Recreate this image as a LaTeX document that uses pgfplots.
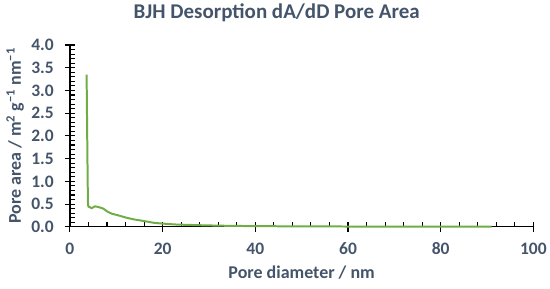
\documentclass[border=0pt]{standalone}
\usepackage{pgfplots}
\pgfplotsset{compat=1.18}
\usepackage{fontspec}
\setmainfont{Carlito}
\definecolor{txt}{HTML}{44546A}
\definecolor{curve}{HTML}{70AD47}
\begin{document}
\begin{tikzpicture}
\begin{axis}[
    scale only axis,
    width=464bp, height=182bp,
    xmin=0, xmax=100, ymin=0, ymax=4,
    clip=false,
    axis lines*=left,
    axis line style={black, line width=1.3pt},
    xtick={0,20,...,100}, minor x tick num=4,
    ytick={0,0.5,...,4}, minor y tick num=4,
    tick align=center,
    major tick length=10bp, minor tick length=5bp,
    tick style={black, line width=1.1pt},
    minor x tick style={yshift=2.5bp},
    minor y tick style={xshift=2.5bp},
    /pgf/number format/assume math mode=true,
    yticklabel style={/pgf/number format/fixed, /pgf/number format/fixed zerofill,
        /pgf/number format/precision=1, anchor=east, inner xsep=0pt, xshift=-11bp},
    xticklabel style={anchor=base, yshift=-23bp},
    tick label style={font=\fontsize{17.5bp}{19bp}\selectfont\bfseries, text=txt},
    label style={font=\fontsize{18bp}{20bp}\selectfont\bfseries, text=txt},
    xlabel={Pore diameter / nm},
    xlabel style={at={(axis description cs:0.5,-0.2857)}, anchor=base},
    ylabel={Pore area / m\textsuperscript{2} g\textsuperscript{−1} nm\textsuperscript{−1}},
    ylabel style={at={(axis description cs:-0.1056,0.5)}, anchor=base},
    title={BJH Desorption dA/dD Pore Area},
    title style={at={(axis description cs:0.4461,1.1154)}, anchor=base,
        font=\fontsize{21bp}{23bp}\selectfont\bfseries, text=txt},
]
\addplot[color=curve, line width=2pt, smooth, tension=0.3] coordinates {
    (3.6,3.35) (3.75,1.8) (3.9,0.52) (4.2,0.44) (4.7,0.41) (5.4,0.45)
    (6.3,0.43) (7.2,0.40) (8.0,0.34) (9.0,0.29) (10.5,0.25) (12.2,0.20)
    (14.0,0.16) (15.8,0.13) (18.0,0.09) (20.1,0.07) (23.0,0.05) (28.0,0.035)
    (35.0,0.02) (45.0,0.012) (55.0,0.008) (65.0,0.005) (75.0,0.004) (85.0,0.003) (91.0,0.002)
};
\draw[draw=none] ([xshift=-70bp,yshift=-62bp]rel axis cs:0,0)
    rectangle ([xshift=16bp,yshift=44bp]rel axis cs:1,1);
\end{axis}
\end{tikzpicture}
\end{document}
